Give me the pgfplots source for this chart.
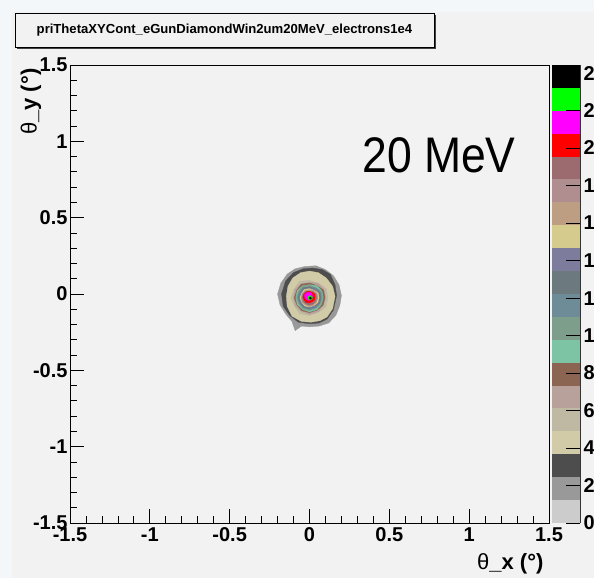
\documentclass[border=0pt]{standalone}
\usepackage{pgfplots}
\pgfplotsset{compat=1.18}
\usepackage{graphicx}
\usepackage{fontspec}
\setmainfont{Liberation Sans}
\definecolor{bgout}{HTML}{F4F7FA}
\definecolor{bgc}{HTML}{F2F2F2}
\definecolor{c1}{HTML}{CCCCCC}
\definecolor{c2}{HTML}{999999}
\definecolor{c3}{HTML}{4D4D4D}
\definecolor{c4}{HTML}{D1CBA8}
\definecolor{c5}{HTML}{BFB9A4}
\definecolor{c6}{HTML}{B9A19B}
\definecolor{c7}{HTML}{8C6552}
\definecolor{c8}{HTML}{7DC4A5}
\definecolor{c9}{HTML}{7E9E8C}
\definecolor{c10}{HTML}{6E8C98}
\definecolor{c11}{HTML}{6C7A80}
\definecolor{c12}{HTML}{7D7C9D}
\definecolor{c13}{HTML}{D4CB8C}
\definecolor{c14}{HTML}{BD9E82}
\definecolor{c15}{HTML}{B08D8F}
\definecolor{c16}{HTML}{9B6B70}
\definecolor{c17}{HTML}{FF0000}
\definecolor{c18}{HTML}{FF00FF}
\definecolor{c19}{HTML}{00FF00}
\definecolor{c20}{HTML}{000000}
\begin{document}
\begin{tikzpicture}[x=1pt,y=1pt]
\fill[bgout] (0,0) rectangle (594,578);
\fill[bgc] (12,0) rectangle (594,566);
% title box
\fill[black!75] (17,529) rectangle (436,563);
\filldraw[fill=bgc, draw=black, line width=0.8pt] (15,531) rectangle (434,565);
\node[font=\bfseries\fontsize{13.1}{15}\selectfont] at (224.5,548) {priThetaXYCont\_eGunDiamondWin2um20MeV\_electrons1e4};

\begin{axis}[at={(70pt,55pt)}, anchor=south west, scale only axis,
  width=479pt, height=458pt,
  xmin=-1.5, xmax=1.5, ymin=-1.5, ymax=1.5,
  xtick={-1.5,-1,-0.5,0,0.5,1,1.5}, ytick={-1.5,-1,-0.5,0,0.5,1,1.5},
  minor tick num=4, tick align=inside, tick pos=left,
  major tick length=14pt, minor tick length=7pt,
  axis line style={black, line width=0.8pt},
  every tick/.style={black, line width=0.8pt},
  axis on top,
  tick label style={font=\bfseries\fontsize{20}{20}\selectfont},
  xticklabel style={yshift=-1pt},
  yticklabel style={xshift=1pt},
  /pgf/number format/assume math mode=true,
  /pgf/number format/fixed,
]
\addplot[fill=c2, draw=c2, line width=0.3pt] coordinates {(0.2,-0.01) (0.185,0.06) (0.15,0.12) (0.1,0.16) (0.04,0.185) (-0.03,0.18) (-0.09,0.165) (-0.14,0.13) (-0.18,0.07) (-0.2,0.0) (-0.185,-0.07) (-0.15,-0.13) (-0.11,-0.18) (-0.09,-0.24) (-0.05,-0.21) (0.0,-0.215) (0.06,-0.21) (0.12,-0.19) (0.165,-0.14) (0.19,-0.075)} -- cycle;
\addplot[fill=c3, draw=c3, line width=0.3pt] coordinates {(0.17,-0.01) (0.16,0.06) (0.13,0.13) (0.08,0.16) (0.02,0.17) (-0.04,0.165) (-0.1,0.14) (-0.15,0.085) (-0.175,0.0) (-0.165,-0.08) (-0.125,-0.14) (-0.07,-0.185) (0.0,-0.195) (0.06,-0.19) (0.11,-0.165) (0.15,-0.105)} -- cycle;
\addplot[fill=c4, draw=c4, line width=0.3pt] coordinates {(0.16,-0.015) (0.145,0.05) (0.105,0.105) (0.055,0.14) (0.0,0.15) (-0.055,0.14) (-0.105,0.105) (-0.135,0.05) (-0.145,-0.015) (-0.14,-0.08) (-0.11,-0.145) (-0.05,-0.18) (0.01,-0.185) (0.065,-0.175) (0.11,-0.15) (0.145,-0.095)} -- cycle;
\addplot[fill=c5, draw=c5, line width=0.3pt] coordinates {(0.115,-0.025) (0.105,0.035) (0.055,0.070) (0,0.090) (-0.062,0.083) (-0.097,0.031) (-0.117,-0.025) (-0.094,-0.079) (-0.060,-0.130) (0,-0.140) (0.055,-0.121) (0.103,-0.084)} -- cycle;
\addplot[fill=c6, draw=c6, line width=0.3pt] coordinates {(0.100,-0.025) (0.091,0.028) (0.056,0.071) (0,0.076) (-0.053,0.066) (-0.092,0.029) (-0.100,-0.025) (-0.090,-0.077) (-0.051,-0.113) (0,-0.134) (0.054,-0.116) (0.087,-0.075)} -- cycle;
\addplot[fill=c7, draw=c7, line width=0.3pt] coordinates {(0.097,-0.025) (0.088,0.026) (0.046,0.055) (0,0.072) (-0.052,0.064) (-0.081,0.022) (-0.096,-0.025) (-0.079,-0.071) (-0.049,-0.109) (0,-0.122) (0.047,-0.106) (0.085,-0.073)} -- cycle;
\addplot[fill=c8, draw=c8, line width=0.3pt] coordinates {(0.086,-0.025) (0.078,0.020) (0.046,0.054) (0,0.061) (-0.045,0.053) (-0.077,0.020) (-0.086,-0.025) (-0.076,-0.069) (-0.044,-0.101) (0,-0.117) (0.046,-0.102) (0.075,-0.068)} -- cycle;
\addplot[fill=c9, draw=c9, line width=0.3pt] coordinates {(0.083,-0.025) (0.075,0.019) (0.039,0.043) (0,0.058) (-0.045,0.052) (-0.070,0.015) (-0.082,-0.025) (-0.068,-0.064) (-0.042,-0.097) (0,-0.108) (0.040,-0.094) (0.072,-0.066)} -- cycle;
\addplot[fill=c10, draw=c10, line width=0.3pt] coordinates {(0.073,-0.025) (0.067,0.014) (0.038,0.041) (0,0.049) (-0.039,0.042) (-0.066,0.012) (-0.073,-0.025) (-0.065,-0.062) (-0.037,-0.088) (0,-0.103) (0.039,-0.091) (0.064,-0.062)} -- cycle;
\addplot[fill=c11, draw=c11, line width=0.3pt] coordinates {(0.071,-0.025) (0.065,0.012) (0.034,0.033) (0,0.046) (-0.038,0.041) (-0.060,0.009) (-0.071,-0.025) (-0.058,-0.058) (-0.037,-0.087) (0,-0.096) (0.034,-0.084) (0.063,-0.060)} -- cycle;
\addplot[fill=c12, draw=c12, line width=0.3pt] coordinates {(0.062,-0.025) (0.056,0.008) (0.033,0.032) (0,0.037) (-0.033,0.031) (-0.056,0.008) (-0.062,-0.025) (-0.056,-0.057) (-0.032,-0.080) (0,-0.092) (0.033,-0.081) (0.054,-0.056)} -- cycle;
\addplot[fill=c13, draw=c13, line width=0.3pt] coordinates {(0.060,-0.025) (0.055,0.007) (0.029,0.024) (0,0.035) (-0.032,0.030) (-0.050,0.004) (-0.060,-0.025) (-0.049,-0.053) (-0.031,-0.078) (0,-0.085) (0.029,-0.075) (0.053,-0.055)} -- cycle;
\addplot[fill=c14, draw=c14, line width=0.3pt] coordinates {(0.052,-0.025) (0.048,0.003) (0.027,0.023) (0,0.028) (-0.028,0.023) (-0.048,0.002) (-0.052,-0.025) (-0.047,-0.052) (-0.027,-0.071) (0,-0.082) (0.028,-0.073) (0.045,-0.051)} -- cycle;
\addplot[fill=c15, draw=c15, line width=0.3pt] coordinates {(0.050,-0.025) (0.045,0.001) (0.024,0.016) (0,0.025) (-0.027,0.021) (-0.042,-0.001) (-0.050,-0.025) (-0.041,-0.049) (-0.026,-0.070) (0,-0.075) (0.024,-0.067) (0.044,-0.050)} -- cycle;
\addplot[fill=c16, draw=c16, line width=0.3pt] coordinates {(0.044,-0.025) (0.040,-0.002) (0.024,0.016) (0,0.019) (-0.023,0.015) (-0.042,0.000) (-0.044,-0.025) (-0.041,-0.049) (-0.022,-0.064) (0,-0.074) (0.023,-0.066) (0.038,-0.047)} -- cycle;
\addplot[fill=c17, draw=c17, line width=0.3pt] coordinates {(0.035,-0.020) (0.032,0.000) (0.015,0.011) (-0.003,0.018) (-0.022,0.014) (-0.035,-0.002) (-0.042,-0.020) (-0.034,-0.038) (-0.023,-0.055) (-0.003,-0.058) (0.015,-0.052) (0.031,-0.040)} -- cycle;
\addplot[fill=c18, draw=c18, line width=0.3pt] coordinates {(0.019,-0.015) (0.017,-0.002) (0.008,0.009) (-0.006,0.010) (-0.019,0.008) (-0.030,-0.001) (-0.031,-0.015) (-0.029,-0.028) (-0.019,-0.037) (-0.006,-0.043) (0.007,-0.038) (0.016,-0.028)} -- cycle;
\addplot[fill=c19, draw=c19, line width=0.3pt] coordinates {(0.019,-0.025) (0.014,-0.015) (0.004,-0.011) (-0.007,-0.016) (-0.011,-0.026) (-0.006,-0.035) (0.005,-0.039) (0.014,-0.034)} -- cycle;
\addplot[fill=c20, draw=c20, line width=0.3pt] coordinates {(0.012,-0.027) (0.009,-0.022) (0.004,-0.020) (-0.001,-0.023) (-0.002,-0.028) (0.001,-0.032) (0.006,-0.034) (0.010,-0.031)} -- cycle;
\end{axis}

\begin{axis}[at={(552pt,55pt)}, anchor=south west, scale only axis,
  width=28pt, height=458pt,
  xmin=0, xmax=1, ymin=0, ymax=24.43,
  axis x line=none, axis y line*=right,
  ytick={0,2,4,6,8,10,12,14,16,18,20,22,24},
  tick align=inside, major tick length=14pt,
  every tick/.style={black, line width=0.8pt},
  axis line style={black!80, line width=0.8pt},
  axis on top,
  yticklabel style={font=\bfseries\fontsize{20}{20}\selectfont, xshift=0pt},
  /pgf/number format/assume math mode=true,
]
\addplot[fill=c1, draw=none] coordinates {(0,0) (1,0) (1,1.2215) (0,1.2215)} -- cycle;
\addplot[fill=c2, draw=none] coordinates {(0,1.2215) (1,1.2215) (1,2.443) (0,2.443)} -- cycle;
\addplot[fill=c3, draw=none] coordinates {(0,2.443) (1,2.443) (1,3.6645) (0,3.6645)} -- cycle;
\addplot[fill=c4, draw=none] coordinates {(0,3.6645) (1,3.6645) (1,4.886) (0,4.886)} -- cycle;
\addplot[fill=c5, draw=none] coordinates {(0,4.886) (1,4.886) (1,6.1075) (0,6.1075)} -- cycle;
\addplot[fill=c6, draw=none] coordinates {(0,6.1075) (1,6.1075) (1,7.329) (0,7.329)} -- cycle;
\addplot[fill=c7, draw=none] coordinates {(0,7.329) (1,7.329) (1,8.5505) (0,8.5505)} -- cycle;
\addplot[fill=c8, draw=none] coordinates {(0,8.5505) (1,8.5505) (1,9.772) (0,9.772)} -- cycle;
\addplot[fill=c9, draw=none] coordinates {(0,9.772) (1,9.772) (1,10.9935) (0,10.9935)} -- cycle;
\addplot[fill=c10, draw=none] coordinates {(0,10.9935) (1,10.9935) (1,12.215) (0,12.215)} -- cycle;
\addplot[fill=c11, draw=none] coordinates {(0,12.215) (1,12.215) (1,13.4365) (0,13.4365)} -- cycle;
\addplot[fill=c12, draw=none] coordinates {(0,13.4365) (1,13.4365) (1,14.658) (0,14.658)} -- cycle;
\addplot[fill=c13, draw=none] coordinates {(0,14.658) (1,14.658) (1,15.8795) (0,15.8795)} -- cycle;
\addplot[fill=c14, draw=none] coordinates {(0,15.8795) (1,15.8795) (1,17.101) (0,17.101)} -- cycle;
\addplot[fill=c15, draw=none] coordinates {(0,17.101) (1,17.101) (1,18.3225) (0,18.3225)} -- cycle;
\addplot[fill=c16, draw=none] coordinates {(0,18.3225) (1,18.3225) (1,19.544) (0,19.544)} -- cycle;
\addplot[fill=c17, draw=none] coordinates {(0,19.544) (1,19.544) (1,20.7655) (0,20.7655)} -- cycle;
\addplot[fill=c18, draw=none] coordinates {(0,20.7655) (1,20.7655) (1,21.987) (0,21.987)} -- cycle;
\addplot[fill=c19, draw=none] coordinates {(0,21.987) (1,21.987) (1,23.2085) (0,23.2085)} -- cycle;
\addplot[fill=c20, draw=none] coordinates {(0,23.2085) (1,23.2085) (1,24.43) (0,24.43)} -- cycle;
\end{axis}

\node[anchor=center, font=\fontsize{50}{50}\selectfont] at (439pt,423pt) {\scalebox{0.89}[1]{20 MeV}};
\node[rotate=90, anchor=east, font=\fontsize{22}{22}\selectfont] at (31pt,513pt) {θ\textbf{\_y (°)}};
\node[anchor=east, font=\fontsize{22}{22}\selectfont] at (547pt,14pt) {θ\textbf{\_x (°)}};
\pgfresetboundingbox
\path[use as bounding box] (0,0) rectangle (594,578);
\end{tikzpicture}
\end{document}
